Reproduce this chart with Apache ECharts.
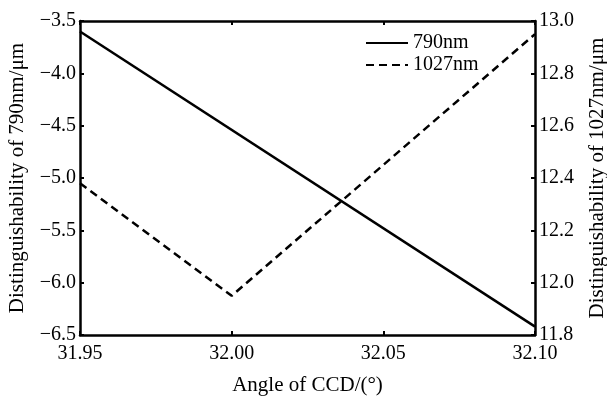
<!DOCTYPE html>
<html>
<head>
<meta charset="utf-8">
<script src="https://cdn.jsdelivr.net/npm/echarts@6/dist/echarts.min.js"></script>
<style>
  html, body { margin: 0; padding: 0; background: #fff; }
  #chart { width: 607px; height: 401px; }
</style>
</head>
<body>
<div id="chart"></div>
<script>
// values
const angle790 = [31.95, 32.10];
const dist790 = [-3.60, -6.42];
const angle1027 = [31.95, 32.00, 32.10];
const dist1027 = [12.38, 11.95, 12.95];

function pairs(xs, ys) {
  return xs.map((x, i) => [x, ys[i]]);
}

function dibujar() {
  const chart = echarts.init(document.getElementById("chart"));
  const font = "Liberation Serif";
  const black = "#000";

  const axisCommon = {
    axisLine: { show: true, onZero: false, lineStyle: { color: black, width: 2.5 } },
    axisTick: { show: true, inside: true, length: 4, lineStyle: { color: black, width: 2 } },
    splitLine: { show: false },
    nameTextStyle: { fontFamily: font, fontSize: 21, color: black }
  };
  const labelStyle = { fontFamily: font, fontSize: 20, color: black };

  const option = {
    backgroundColor: "#fff",
    animation: false,
    grid: { left: 80, right: 72, top: 21, bottom: 66, outerBoundsMode: "none", containLabel: false },
    legend: {
      left: 360,
      top: 28,
      orient: "vertical",
      itemWidth: 42,
      itemHeight: 10,
      itemGap: 2,
      itemStyle: { opacity: 0 },
      textStyle: { fontFamily: font, fontSize: 20, color: black },
      data: ["790nm", "1027nm"]
    },
    xAxis: [
      Object.assign({}, axisCommon, {
        type: "value",
        min: 31.95,
        max: 32.10,
        interval: 0.05,
        name: "Angle of CCD/(°)",
        nameLocation: "middle",
        nameGap: 40,
        axisLabel: Object.assign({}, labelStyle, { margin: 9, formatter: v => v.toFixed(2) })
      }),
      Object.assign({}, axisCommon, {
        type: "value",
        position: "top",
        min: 31.95,
        max: 32.10,
        interval: 0.05,
        axisLabel: { show: false }
      })
    ],
    yAxis: [
      Object.assign({}, axisCommon, {
        type: "value",
        min: -6.5,
        max: -3.5,
        interval: 0.5,
        name: "Distinguishability of 790nm/μm",
        nameLocation: "middle",
        nameGap: 52,
        axisLabel: Object.assign({}, labelStyle, {
          margin: 4,
          formatter: v => (v < 0 ? "\u2212" : "") + Math.abs(v).toFixed(1)
        })
      }),
      Object.assign({}, axisCommon, {
        type: "value",
        position: "right",
        min: 11.8,
        max: 13.0,
        interval: 0.2,
        name: "Distinguishability of 1027nm/μm",
        nameLocation: "middle",
        nameGap: 52,
        nameRotate: 90,
        axisLabel: Object.assign({}, labelStyle, { margin: 4, formatter: v => v.toFixed(1) })
      })
    ],
    series: [
      {
        name: "790nm",
        type: "line",
        xAxisIndex: 0,
        yAxisIndex: 0,
        showSymbol: false,
        symbol: "none",
        lineStyle: { color: black, width: 2.5 },
        itemStyle: { color: black },
        data: pairs(angle790, dist790)
      },
      {
        name: "1027nm",
        type: "line",
        xAxisIndex: 0,
        yAxisIndex: 1,
        showSymbol: false,
        symbol: "none",
        lineStyle: { color: black, width: 2.5, type: [8, 5] },
        itemStyle: { color: black },
        data: pairs(angle1027, dist1027)
      }
    ]
  };

  chart.setOption(option);
}

document.addEventListener("DOMContentLoaded", dibujar);
</script>
</body>
</html>
